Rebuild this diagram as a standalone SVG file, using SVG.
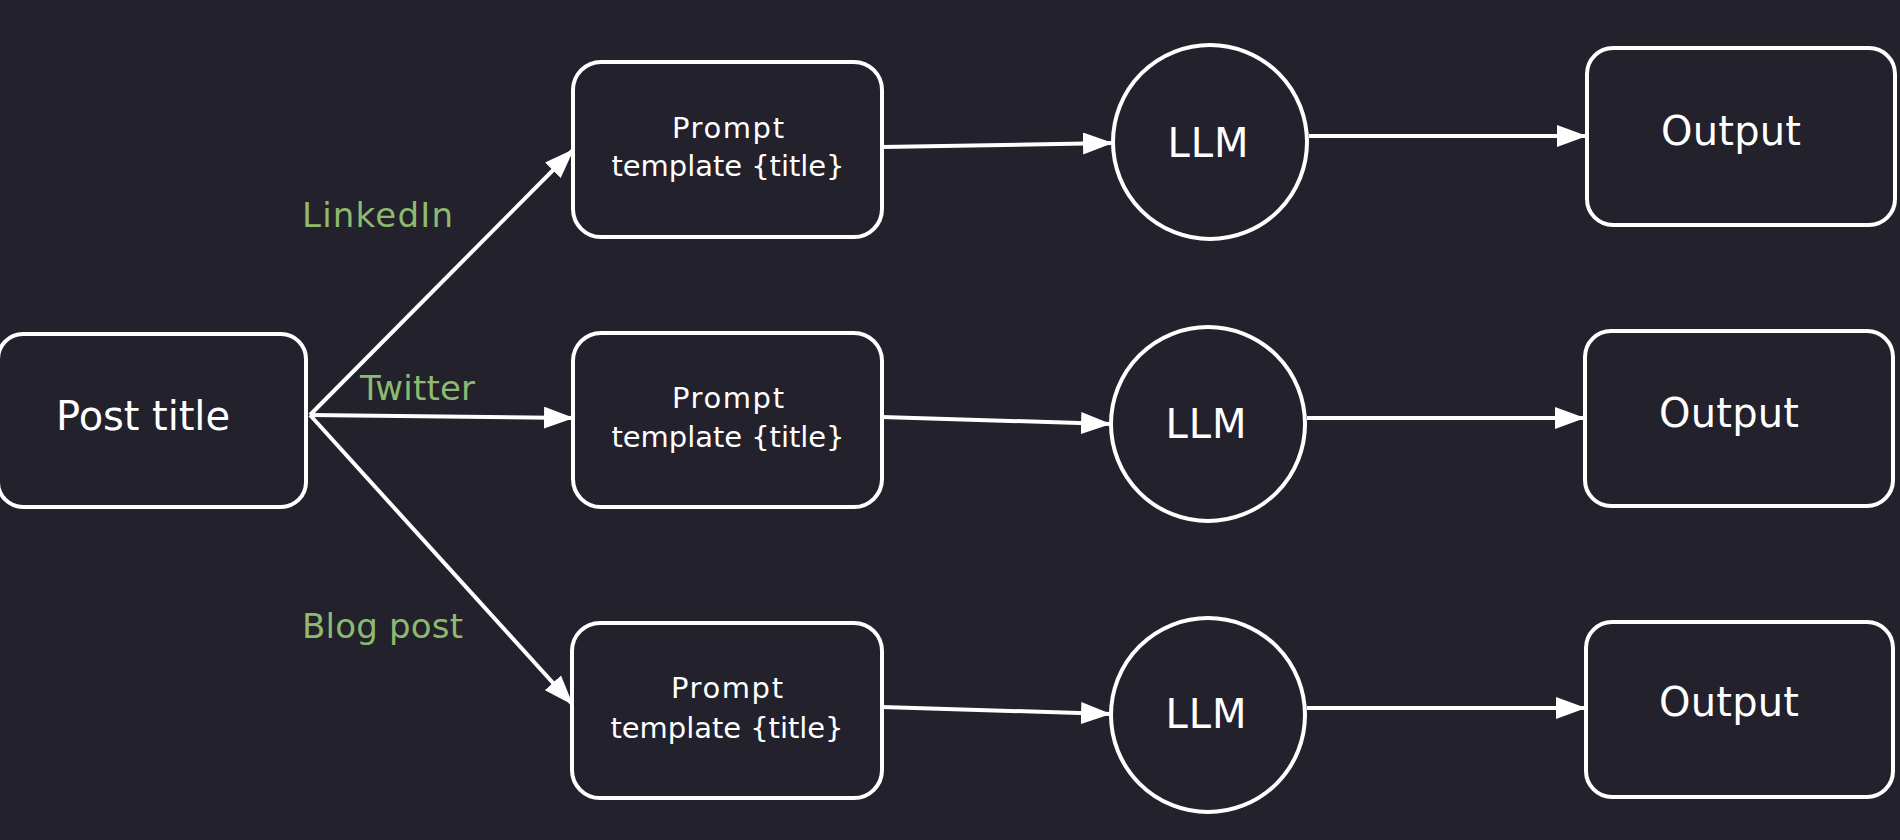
<svg xmlns="http://www.w3.org/2000/svg" width="1900" height="840" viewBox="0 0 1900 840">
  <defs>
    <marker id="arrow" viewBox="0 0 30 22" refX="30" refY="11" markerWidth="30" markerHeight="22" markerUnits="userSpaceOnUse" orient="auto">
      <path d="M0,0 L30,11 L0,22 Z" fill="#ffffff"/>
    </marker>
    <style>
      .bg { fill: #22212c; }
      .box { fill: #22212c; stroke: #ffffff; stroke-width: 4; }
      .edge { fill: none; stroke: #ffffff; stroke-width: 4; marker-end: url(#arrow); }
      .t { font-family: "DejaVu Sans", "Liberation Sans", sans-serif; fill: #ffffff; text-anchor: middle; }
      .lbl { font-family: "DejaVu Sans", "Liberation Sans", sans-serif; fill: #8dba6f; font-size: 34px; }
      .big { font-size: 40px; }
      .mid { font-size: 40px; }
      .sm { font-size: 29px; }
    </style>
  </defs>
  <rect class="bg" x="0" y="0" width="1900" height="840"/>

  <g id="connectors">
    <line class="edge" x1="310" y1="415" x2="574" y2="149"/>
    <line class="edge" x1="310" y1="415" x2="574" y2="418"/>
    <line class="edge" x1="310" y1="415" x2="573" y2="705"/>
    <line class="edge" x1="882" y1="147" x2="1113" y2="143"/>
    <line class="edge" x1="882" y1="417" x2="1111" y2="424"/>
    <line class="edge" x1="882" y1="707" x2="1111" y2="714"/>
    <line class="edge" x1="1309" y1="136" x2="1587" y2="136"/>
    <line class="edge" x1="1307" y1="418" x2="1585" y2="418"/>
    <line class="edge" x1="1307" y1="708" x2="1586" y2="708"/>
    <text class="lbl" x="302" y="227" textLength="151">LinkedIn</text>
    <text class="lbl" x="360" y="400" textLength="115">Twitter</text>
    <text class="lbl" x="302" y="638" textLength="161">Blog post</text>
  </g>

  <g id="post-title">
    <rect class="box" x="-2" y="334" width="308" height="173" rx="25"/>
    <text class="t big" x="143" y="430" textLength="174">Post title</text>
  </g>

  <g id="prompt-1">
    <rect class="box" x="573" y="62" width="309" height="175" rx="28"/>
    <text class="t sm" x="728" y="138" textLength="112">Prompt</text>
    <text class="t sm" x="728" y="176" textLength="233">template {title}</text>
  </g>
  <g id="prompt-2">
    <rect class="box" x="573" y="333" width="309" height="174" rx="28"/>
    <text class="t sm" x="728" y="408" textLength="112">Prompt</text>
    <text class="t sm" x="728" y="447" textLength="233">template {title}</text>
  </g>
  <g id="prompt-3">
    <rect class="box" x="572" y="623" width="310" height="175" rx="28"/>
    <text class="t sm" x="727" y="698" textLength="112">Prompt</text>
    <text class="t sm" x="727" y="738" textLength="233">template {title}</text>
  </g>

  <g id="llm-1">
    <circle class="box" cx="1210" cy="142" r="97"/>
    <text class="t mid" x="1208" y="157" textLength="81">LLM</text>
  </g>
  <g id="llm-2">
    <circle class="box" cx="1208" cy="424" r="97"/>
    <text class="t mid" x="1206" y="438" textLength="81">LLM</text>
  </g>
  <g id="llm-3">
    <circle class="box" cx="1208" cy="715" r="97"/>
    <text class="t mid" x="1206" y="728" textLength="81">LLM</text>
  </g>

  <g id="output-1">
    <rect class="box" x="1587" y="48" width="308" height="177" rx="26"/>
    <text class="t mid" x="1731" y="145" textLength="140">Output</text>
  </g>
  <g id="output-2">
    <rect class="box" x="1585" y="331" width="308" height="175" rx="26"/>
    <text class="t mid" x="1729" y="427" textLength="140">Output</text>
  </g>
  <g id="output-3">
    <rect class="box" x="1586" y="622" width="307" height="175" rx="26"/>
    <text class="t mid" x="1729" y="716" textLength="140">Output</text>
  </g>
</svg>
